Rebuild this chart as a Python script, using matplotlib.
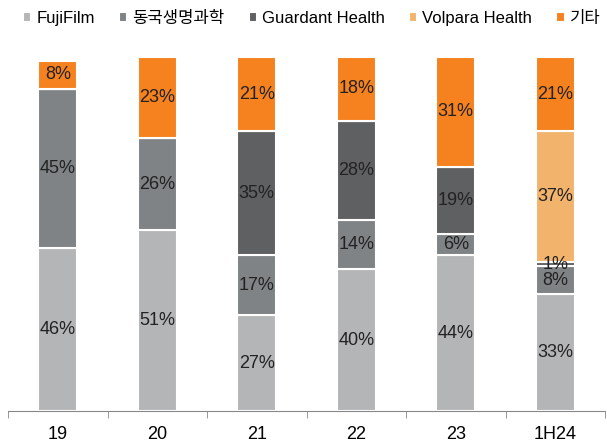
import numpy as np
import matplotlib
matplotlib.use('Agg')
from matplotlib import pyplot as plt

plt.rcParams['font.family'] = ['Liberation Sans', 'Noto Sans CJK KR', 'DejaVu Sans']

# data (share %)
years = ['19', '20', '21', '22', '23', '1H24']
series = ['FujiFilm', '동국생명과학', 'Guardant Health', 'Volpara Health', '기타']
fuji = [46, 51, 27, 40, 44, 33]
dongkook = [45, 26, 17, 14, 6, 8]
guardant = [0, 0, 35, 28, 19, 1]
volpara = [0, 0, 0, 0, 0, 37]
others = [8, 23, 21, 18, 31, 21]
colors = ['#B4B5B7', '#808385', '#5E6062', '#F2B46C', '#F5821F']

fig = plt.figure(figsize=(6.07, 4.45), dpi=100)
ax = fig.add_axes([8/607, 34/445, 597/607, 354/445])

x = np.arange(len(years))
bottom = np.zeros(len(years))
for name, vals, c in zip(series, [fuji, dongkook, guardant, volpara, others], colors):
    vals = np.array(vals, dtype=float)
    ax.bar(x, vals, 0.39, bottom=bottom, color=c, edgecolor='white', linewidth=1.5, label=name)
    for xi, b, v in zip(x, bottom, vals):
        if v > 0:
            ax.text(xi, b + v/2, f'{int(v)}%', ha='center', va='center', fontsize=13, color='#222222')
    bottom += vals

ax.set_xlim(-0.5, 5.5)
ax.set_ylim(0, 100)
ax.set_yticks([])
for s in ['top', 'right', 'left']:
    ax.spines[s].set_visible(False)
ax.spines['bottom'].set_color('#888888')
ax.set_xticks(x)
ax.set_xticklabels(years, fontsize=13)
ax.tick_params(axis='x', length=0, pad=11)
ax.set_xticks(np.arange(-0.5, 6, 1), minor=True)
ax.tick_params(axis='x', which='minor', length=5, color='#888888')

fig.legend(loc='upper left', bbox_to_anchor=(0.02, 1.0), ncol=5, frameon=False, fontsize=12,
           handlelength=0.5, handleheight=0.5, handletextpad=0.3, columnspacing=1.45,
           borderaxespad=0.25)

plt.savefig('out.png', dpi=100)
